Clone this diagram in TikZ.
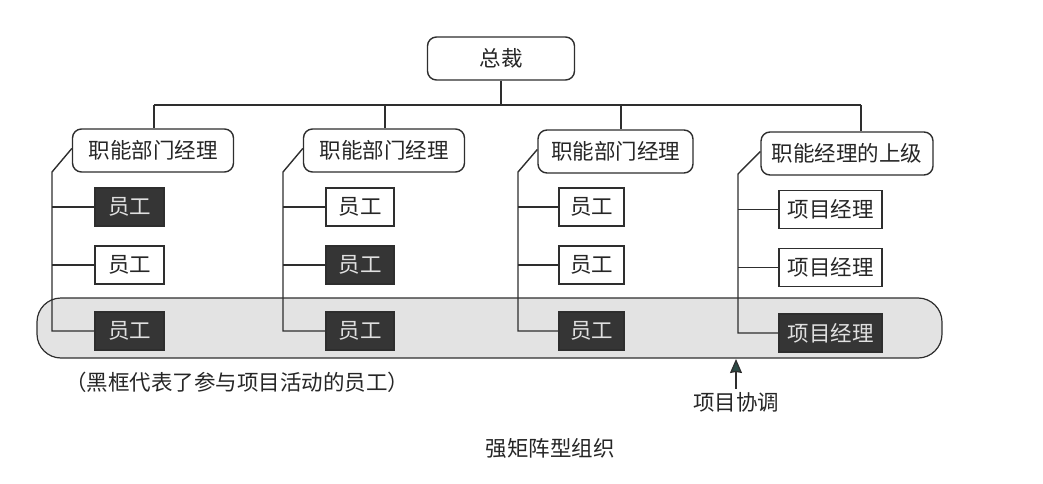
\documentclass[tikz,border=0pt]{standalone}
\usepackage{fontspec}
\setmainfont{Noto Sans CJK SC}
\usetikzlibrary{arrows.meta}
\definecolor{ln}{HTML}{2E2E2E}
\definecolor{dk}{HTML}{353535}
\definecolor{bandc}{HTML}{E3E3E3}
\definecolor{arr}{HTML}{2C4A45}
\begin{document}
\begin{tikzpicture}[x=1pt,y=-1pt,
  txt/.style={font=\fontsize{21.5}{25}\selectfont, text=black!85},
  mgr/.style={txt, draw=ln, line width=1.4, rounded corners=9, fill=white, minimum height=43, inner sep=0},
  emp/.style={txt, draw=ln, line width=1.4, fill=white, minimum height=38, inner sep=0},
  act/.style={emp, fill=dk, text=white!88!black},
  conn/.style={draw=ln, line width=1.4}]
\useasboundingbox (0,0) rectangle (1043,484);
% band
\node (band) [draw=ln, line width=1.2, fill=bandc, rounded corners=24, minimum width=905, minimum height=60, inner sep=0] at (489.5,328) {};
% top
\node (top) [mgr, minimum width=147] at (501,58.5) {总裁};
\coordinate (b1) at (154,105);
\coordinate (b2) at (385,105);
\coordinate (b3) at (621,105);
\coordinate (b4) at (861,105);
% managers
\node (m1) [mgr, minimum width=161] at (153,150.5) {职能部门经理};
\node (m2) [mgr, minimum width=161] at (384,150.5) {职能部门经理};
\node (m3) [mgr, minimum width=155] at (615.5,151.5) {职能部门经理};
\node (m4) [mgr, minimum width=172] at (847,153.5) {职能经理的上级};
% employees
\node (e11) [act, minimum width=69] at (129.5,207) {员工};
\node (e12) [emp, minimum width=69] at (129.5,265) {员工};
\node (e13) [act, minimum width=69] at (129.5,331) {员工};
\node (e21) [emp, minimum width=68] at (360,207) {员工};
\node (e22) [act, minimum width=68] at (360,265) {员工};
\node (e23) [act, minimum width=68] at (360,331) {员工};
\node (e31) [emp, minimum width=65] at (591.5,207) {员工};
\node (e32) [emp, minimum width=65] at (591.5,265) {员工};
\node (e33) [act, minimum width=65] at (591.5,331) {员工};
\node (e41) [emp, minimum width=103] at (830.5,209.5) {项目经理};
\node (e42) [emp, minimum width=103] at (830.5,267.5) {项目经理};
\node (e43) [act, minimum width=103] at (830.5,333) {项目经理};
% rails
\coordinate (r1) at (52,172);
\coordinate (r2) at (283,172);
\coordinate (r3) at (518,172);
\coordinate (r4) at (738,174);
% connectors
\draw[conn] (top.south) -- (top.south |- b1);
\draw[conn] (b1) -- (b4);
\draw[conn] (b1) -- (b1 |- m1.north);
\draw[conn] (b2) -- (b2 |- m2.north);
\draw[conn] (b3) -- (b3 |- m3.north);
\draw[conn] (b4) -- (b4 |- m4.north);
\foreach \g in {1,2,3,4}{
  \draw[conn] ([yshift=2]m\g.west) -- (r\g) -- (r\g |- e\g3) -- (e\g3.west);
  \draw[conn] (r\g |- e\g1) -- (e\g1.west);
  \draw[conn] (r\g |- e\g2) -- (e\g2.west);
}
% labels
\node (note) [txt] at (237,382) {（黑框代表了参与项目活动的员工）};
\node (coord) [txt] at (736,402) {项目协调};
\coordinate (tip) at (736,359);
\draw[draw=ln, line width=1.2, -{Stealth[length=14,width=12,inset=1,fill=arr]}] (coord.north) -- (tip);
\node (cap) [txt] at (550,448) {强矩阵型组织};
\end{tikzpicture}
\end{document}
